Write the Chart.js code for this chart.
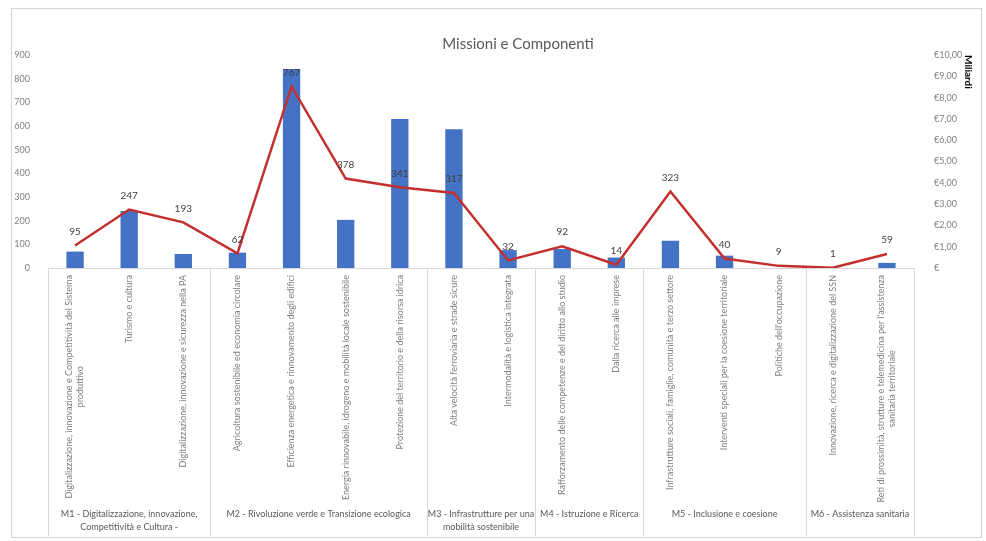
<!DOCTYPE html>
<html>
<head>
<meta charset="utf-8">
<script src="https://cdn.jsdelivr.net/npm/chart.js@4.4.1/dist/chart.umd.min.js"></script>
<style>
  html, body { margin: 0; padding: 0; background: #fff; }
  #wrap { width: 986px; height: 541px; }
</style>
</head>
<body>
<div id="wrap"><canvas id="c" width="986" height="541"></canvas></div>
<script>
// componenti (asse categorie)
const componenti = [
  ['Digitalizzazione, innovazione e Competitività del Sistema', 'produttivo'],
  ['Turismo e cultura'],
  ['Digitalizzazione, innovazione e sicurezza nella PA'],
  ['Agricoltura sostenibile ed economia circolare'],
  ['Efficienza energetica e rinnovamento degli edifici'],
  ['Energia rinnovabile, idrogeno e mobilità locale sostenibile'],
  ['Protezione del territorio e della risorsa idrica'],
  ['Alta velocità ferroviaria e strade sicure'],
  ['Intermodalità e logistica integrata'],
  ['Rafforzamento delle competenze e del diritto allo studio'],
  ['Dalla ricerca alle imprese'],
  ['Infrastrutture sociali, famiglie, comunità e terzo settore'],
  ['Interventi speciali per la coesione territoriale'],
  ["Politiche dell'occupazione"],
  ['Innovazione, ricerca e digitalizzazione del SSN'],
  ["Reti di prossimità, strutture e telemedicina per l'assistenza", 'sanitaria territoriale']
];

// missioni: etichetta e numero di componenti
const missioni = [
  ['M1 - Digitalizzazione, innovazione,', 'Competitività e Cultura -'],
  ['M2 - Rivoluzione verde e Transizione ecologica'],
  ['M3 - Infrastrutture per una', 'mobilità sostenibile'],
  ['M4 - Istruzione e Ricerca'],
  ['M5 - Inclusione e coesione'],
  ['M6 - Assistenza sanitaria']
];
const componentiPerMissione = [3, 4, 2, 2, 3, 2];

// importi (miliardi di euro, asse destro)
const importi = [0.77, 2.68, 0.66, 0.72, 9.34, 2.26, 6.99, 6.51, 0.84, 0.89, 0.49, 1.28, 0.58, 0, 0, 0.24];
// numero progetti (linea, asse sinistro)
const progetti = [95, 247, 193, 62, 767, 378, 341, 317, 32, 92, 14, 323, 40, 9, 1, 59];

const FONT = 'Lato, "Open Sans", sans-serif';

// disegna titolo, etichette multilivello e valori della linea
const decor = {
  id: 'decor',
  afterDraw(chart) {
    const { ctx, chartArea } = chart;
    const x = chart.scales.x;
    const step = x.getPixelForValue(1) - x.getPixelForValue(0);
    const bottom = 536;

    ctx.save();
    // cornice
    ctx.strokeStyle = '#d4d4d4';
    ctx.lineWidth = 1;
    ctx.strokeRect(11.5, 8.5, 970, 529);

    // titolo
    ctx.fillStyle = '#595959';
    ctx.font = '15px ' + FONT;
    ctx.textAlign = 'center';
    ctx.textBaseline = 'middle';
    ctx.fillText('Missioni e Componenti', 518, 44);

    // etichette componenti ruotate
    ctx.font = '9px ' + FONT;
    ctx.fillStyle = '#808080';
    componenti.forEach((lines, i) => {
      const cx = x.getPixelForValue(i);
      const w = Math.max(...lines.map(l => ctx.measureText(l).width));
      const cy = chartArea.bottom + 7 + w / 2;
      ctx.save();
      ctx.translate(cx, cy);
      ctx.rotate(-Math.PI / 2);
      ctx.textAlign = 'center';
      const lh = 11;
      lines.forEach((l, k) => {
        ctx.fillText(l, 0, (k - (lines.length - 1) / 2) * lh);
      });
      ctx.restore();
    });

    // separatori e etichette missioni
    ctx.strokeStyle = '#d9d9d9';
    let start = 0;
    const edges = [x.getPixelForValue(0) - step / 2];
    componentiPerMissione.forEach(n => {
      start += n;
      edges.push(x.getPixelForValue(start - 1) + step / 2);
    });
    edges.forEach(px => {
      ctx.beginPath();
      ctx.moveTo(Math.round(px) + 0.5, chartArea.bottom);
      ctx.lineTo(Math.round(px) + 0.5, bottom);
      ctx.stroke();
    });
    ctx.font = '9px ' + FONT;
    ctx.fillStyle = '#595959';
    ctx.textAlign = 'center';
    missioni.forEach((lines, g) => {
      const cx = (edges[g] + edges[g + 1]) / 2;
      lines.forEach((l, k) => ctx.fillText(l, cx, 514 + k * 13));
    });

    // valori della linea
    const meta = chart.getDatasetMeta(1);
    ctx.font = '10px ' + FONT;
    ctx.fillStyle = '#404040';
    meta.data.forEach((pt, i) => {
      ctx.fillText(String(progetti[i]), pt.x, pt.y - 14);
    });
    ctx.restore();
  }
};

new Chart(document.getElementById('c'), {
  data: {
    labels: componenti.map(l => l.join(' ')),
    datasets: [
      {
        type: 'bar',
        label: 'Importo',
        data: importi,
        yAxisID: 'y1',
        backgroundColor: '#4472c4',
        barPercentage: 0.32,
        categoryPercentage: 1,
        order: 2,
      },
      {
        type: 'line',
        label: 'Progetti',
        data: progetti,
        yAxisID: 'y',
        borderColor: '#c4302f',
        borderWidth: 2.5,
        pointRadius: 0,
        tension: 0,
        order: 1,
      },
    ],
  },
  options: {
    responsive: false,
    animation: false,
    layout: { padding: { top: 55, left: 0, right: 0, bottom: 0 } },
    plugins: {
      legend: { display: false },
      title: { display: false },
      tooltip: { enabled: false },
    },
    scales: {
      x: {
        type: 'category',
        grid: { display: false },
        border: { color: '#d9d9d9' },
        ticks: { display: false },
        afterFit: s => { s.height = 273; },
      },
      y: {
        position: 'left',
        min: 0,
        max: 900,
        grid: { display: false },
        border: { display: false },
        ticks: { stepSize: 100, color: '#808080', padding: 10, font: { size: 9, family: FONT } },
        afterFit: s => { s.width = 48; },
      },
      y1: {
        position: 'right',
        display: true,
        min: 0,
        max: 10,
        grid: { display: false },
        border: { display: false },
        ticks: {
          stepSize: 1,
          color: '#808080',
          padding: 12,
          font: { size: 9, family: FONT },
          callback: v => v === 0 ? '€' : '€' + v.toFixed(2).replace('.', ','),
        },
        title: {
          display: true,
          text: 'Miliardi',
          align: 'end',
          color: '#000',
          padding: { top: 12, bottom: 0 },
          font: { size: 10, weight: 'bold', family: FONT },
        },
        afterFit: s => { s.width = 72; },
      },
    },
  },
  plugins: [decor],
});
</script>
</body>
</html>
